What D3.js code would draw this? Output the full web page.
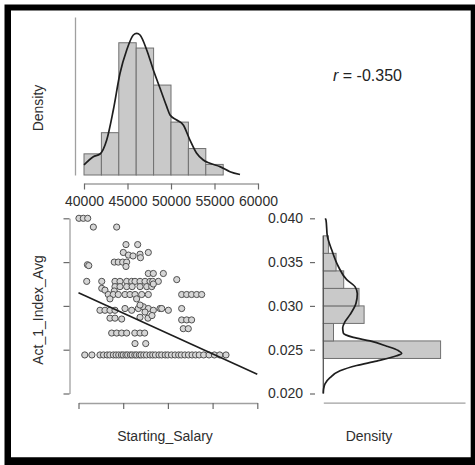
<!DOCTYPE html>
<html>
<head>
<meta charset="utf-8">
<script src="https://cdn.jsdelivr.net/npm/d3@7"></script>
<style>
  body { margin: 0; background: #fff; }
  svg { display: block; }
  text { font-family: "Liberation Sans", Arial, sans-serif; }
</style>
</head>
<body>
<svg id="chart" width="475" height="465"></svg>
<script>
// ---- Starting salary: histogram (bin edges + counts) and density curve ----
const salaryBinEdges = [40000, 42000, 44000, 46000, 48000, 50000, 52000, 54000, 56000];
const salaryCounts   = [4, 8, 25, 24, 17, 10, 5, 2];
const salaryCurveX = [40000, 41070, 41840, 42610, 43370, 44140, 44910, 45670, 46060, 46440, 47210, 47970,
                      48740, 49510, 49890, 50660, 51410, 52180, 52950, 53710, 54480, 55630, 56780, 57930];
const salaryCurveD = [1.00e-5, 1.82e-5, 2.09e-5, 3.48e-5, 6.47e-5, 10.12e-5, 12.44e-5, 13.93e-5, 14.10e-5, 13.93e-5, 12.44e-5, 10.45e-5,
                      8.63e-5, 6.80e-5, 5.97e-5, 5.47e-5, 4.97e-5, 3.48e-5, 2.16e-5, 1.49e-5, 1.16e-5, 0.83e-5, 0.33e-5, 0.05e-5];
const salaryTicks = [40000, 45000, 50000, 55000, 60000];

// ---- Act_1_Index_Avg: histogram and density curve ----
const indexBinEdges = [0.024, 0.026, 0.028, 0.030, 0.032, 0.034, 0.036, 0.038];
const indexCounts   = [46, 4, 16, 14, 8, 5, 2];
const indexCurveY = [0.0200, 0.0205, 0.0211, 0.0218, 0.0226, 0.0232, 0.0237, 0.0243, 0.0246, 0.0249, 0.0254, 0.0260, 0.0264,
                     0.0269, 0.0275, 0.0282, 0.0290, 0.0303, 0.0314, 0.0322, 0.0330, 0.0345, 0.0364, 0.0380, 0.0398, 0.0400];
const indexCurveD = [0, 0.6, 3.5, 13.8, 34.5, 68.9, 110.2, 151.5, 161.8, 154.8, 130.9, 96.4, 61.9,
                     41.3, 40.0, 44.8, 55.1, 67.5, 70.2, 65.4, 48.3, 31.0, 17.3, 8.3, 5.6, 4.1];
const indexTicks = [0.020, 0.025, 0.030, 0.035, 0.040];

// ---- Scatter: Starting_Salary vs Act_1_Index_Avg ----
const scatterSalary = [
  40050, 40540, 41030,
  41660, 44270,
  45310, 46620,
  45010, 45590, 46100, 46880, 46930, 47810,
  44000, 44450, 44940, 45390,
  45310, 41000, 41150,
  47810, 48370, 49490,
  50990,
  40920, 42600, 44080, 44640, 45390, 45950, 46320, 46880, 47440, 48000, 48300, 48930,
  42600, 44080, 44640, 45390, 46000, 46880, 47630, 48190, 48370,
  42960, 44000,
  43330, 43890, 44450, 45200, 45760, 46320, 47070, 47810, 51540, 52100, 52650, 53220, 53780,
  43520, 46500,
  42400, 42960, 43520, 44080, 45200, 45950, 46690, 47250, 47810, 48370, 49120, 49310, 50050, 51540,
  46880, 47440,
  43520, 44080, 44830,
  46880, 47770, 48220,
  51540, 52100, 52650,
  51720, 52280,
  43710, 44270, 44830, 45390, 46300, 46880, 47400,
  46320, 47520,
  40700, 41500, 42400, 42800, 43200, 43500, 43900, 44200, 44500, 44800, 45000, 45300, 45500, 45800,
  46000, 46300, 46500, 46800, 47000, 47300, 47600, 48000, 48300, 48600, 49000, 49300, 49700, 50000,
  50400, 50800, 51200, 51500, 51900, 52300, 52700, 53100, 53500, 54000, 54600, 55200, 55800, 56500
];
const scatterIndex = [
  0.0400, 0.0400, 0.0400,
  0.0390, 0.0390,
  0.0370, 0.0370,
  0.0361, 0.0358, 0.0357, 0.0359, 0.0355, 0.0361,
  0.0350, 0.0350, 0.0350, 0.0350,
  0.0345, 0.0347, 0.0346,
  0.0337, 0.0337, 0.0337,
  0.0330,
  0.0328, 0.0328, 0.0328, 0.0328, 0.0328, 0.0328, 0.0328, 0.0328, 0.0328, 0.0328, 0.0328, 0.0328,
  0.0320, 0.0322, 0.0322, 0.0322, 0.0322, 0.0322, 0.0322, 0.0322, 0.0325,
  0.0318, 0.0317,
  0.0313, 0.0313, 0.0313, 0.0313, 0.0313, 0.0313, 0.0313, 0.0313, 0.0313, 0.0313, 0.0313, 0.0313, 0.0313,
  0.0308, 0.0308,
  0.0295, 0.0295, 0.0295, 0.0295, 0.0297, 0.0295, 0.0297, 0.0299, 0.0297, 0.0295, 0.0297, 0.0297, 0.0295, 0.0297,
  0.0301, 0.0293,
  0.0286, 0.0286, 0.0285,
  0.0287, 0.0286, 0.0289,
  0.0284, 0.0284, 0.0284,
  0.0274, 0.0274,
  0.0269, 0.0269, 0.0269, 0.0269, 0.0269, 0.0269, 0.0269,
  0.0257, 0.0257,
  0.0244, 0.0244, 0.0244, 0.0244, 0.0244, 0.0244, 0.0244, 0.0244, 0.0244, 0.0244, 0.0244, 0.0244, 0.0244, 0.0244,
  0.0244, 0.0244, 0.0244, 0.0244, 0.0244, 0.0244, 0.0244, 0.0244, 0.0244, 0.0244, 0.0244, 0.0244, 0.0244, 0.0244,
  0.0244, 0.0244, 0.0244, 0.0244, 0.0244, 0.0244, 0.0244, 0.0244, 0.0244, 0.0244, 0.0244, 0.0244, 0.0244, 0.0244
];
// least-squares fit line, evaluated at the ends of the salary axis
const fitSalary = [40000, 60000];
const fitIndex  = [0.0315, 0.0222];
const rLabel = "-0.350";

// ---------------------------------------------------------------
const svg = d3.select("#chart");

const TXT = "#2e2e2e";
const AXIS = "#a0a0a0";
const TICK = "#6a6a6a";
const BAR_FILL = "#c9c9c9";
const BAR_STROKE = "#707070";
const CURVE = "#1e1e1e";

// scales
const xTop   = d3.scaleLinear([40000, 60000], [84, 258]);
const yTop   = d3.scaleLinear([0, 1.572e-4], [175, 17]);
const xScat  = d3.scaleLinear([40000, 60000], [78.5, 257.3]);
const yIndex = d3.scaleLinear([0.020, 0.040], [393.5, 218.3]);
const xRight = d3.scaleLinear([0, 292.5], [323.3, 465]);

function styleAxis(g, showLabels) {
  g.select(".domain").attr("stroke", AXIS).attr("stroke-width", 1.3);
  g.selectAll(".tick line").attr("stroke", TICK).attr("stroke-width", 1.2);
  g.selectAll(".tick text").attr("fill", TXT).style("font-size", "14px")
    .style("font-family", "'Liberation Sans', Arial, sans-serif");
  if (!showLabels) g.selectAll(".tick text").remove();
}

// ---------- top panel: salary histogram + density ----------
const N1 = d3.sum(salaryCounts);
const bw1 = salaryBinEdges[1] - salaryBinEdges[0];
const salaryBins = salaryCounts.map((c, i) => ({
  x0: salaryBinEdges[i], x1: salaryBinEdges[i + 1], d: c / (N1 * bw1)
}));

svg.append("g").selectAll("rect").data(salaryBins).join("rect")
  .attr("x", d => xTop(d.x0))
  .attr("width", d => xTop(d.x1) - xTop(d.x0))
  .attr("y", d => yTop(d.d))
  .attr("height", d => yTop(0) - yTop(d.d))
  .attr("fill", BAR_FILL).attr("stroke", BAR_STROKE).attr("stroke-width", 1);

svg.append("path")
  .datum(salaryCurveX.map((x, i) => [x, salaryCurveD[i]]))
  .attr("d", d3.line().x(d => xTop(d[0])).y(d => yTop(d[1])).curve(d3.curveMonotoneX))
  .attr("fill", "none").attr("stroke", CURVE).attr("stroke-width", 1.7);

svg.append("g").attr("transform", "translate(75,0)")
  .call(d3.axisLeft(yTop).tickValues([]).tickSizeOuter(0))
  .call(g => styleAxis(g, false));

svg.append("g").attr("transform", "translate(0,183.5)")
  .call(d3.axisBottom(xTop).tickValues(salaryTicks).tickSize(6).tickSizeOuter(0).tickPadding(7).tickFormat(d3.format("d")))
  .call(g => styleAxis(g, true));

svg.append("text")
  .attr("transform", "translate(43,108) rotate(-90)")
  .attr("text-anchor", "middle").attr("fill", TXT).style("font-size", "14px")
  .text("Density");

// correlation label
const rText = svg.append("text").attr("x", 333).attr("y", 81)
  .attr("fill", "#222").style("font-size", "16px");
rText.append("tspan").style("font-style", "italic").text("r");
rText.append("tspan").text(" = " + rLabel);

// ---------- scatter panel ----------
svg.append("g").attr("transform", "translate(69.5,0)")
  .call(d3.axisLeft(yIndex).tickValues(indexTicks).tickSize(6).tickSizeOuter(0))
  .call(g => styleAxis(g, false));

svg.append("g").attr("transform", "translate(0,403)")
  .call(d3.axisBottom(xScat).tickValues(salaryTicks).tickSize(6).tickSizeOuter(0))
  .call(g => styleAxis(g, false));

svg.append("g").selectAll("circle")
  .data(scatterSalary.map((s, i) => [s, scatterIndex[i]]))
  .join("circle")
  .attr("cx", d => xScat(d[0]))
  .attr("cy", d => yIndex(d[1]))
  .attr("r", 3.1)
  .attr("fill", "#d6d6d6")
  .attr("stroke", "#505050")
  .attr("stroke-width", 1);

svg.append("line")
  .attr("x1", xScat(fitSalary[0])).attr("y1", yIndex(fitIndex[0]))
  .attr("x2", xScat(fitSalary[1])).attr("y2", yIndex(fitIndex[1]))
  .attr("stroke", CURVE).attr("stroke-width", 1.6);

svg.append("text")
  .attr("transform", "translate(43,310) rotate(-90)")
  .attr("text-anchor", "middle").attr("fill", TXT).style("font-size", "14px")
  .text("Act_1_Index_Avg");

svg.append("text").attr("x", 165).attr("y", 440.5)
  .attr("text-anchor", "middle").attr("fill", TXT).style("font-size", "14px")
  .text("Starting_Salary");

// ---------- right panel: index histogram + density (horizontal) ----------
const N2 = d3.sum(indexCounts);
const bw2 = indexBinEdges[1] - indexBinEdges[0];
const indexBins = indexCounts.map((c, i) => ({
  y0: indexBinEdges[i], y1: indexBinEdges[i + 1], d: c / (N2 * bw2)
}));

svg.append("g").selectAll("rect").data(indexBins).join("rect")
  .attr("x", xRight(0))
  .attr("width", d => xRight(d.d) - xRight(0))
  .attr("y", d => yIndex(d.y1))
  .attr("height", d => yIndex(d.y0) - yIndex(d.y1))
  .attr("fill", BAR_FILL).attr("stroke", BAR_STROKE).attr("stroke-width", 1);

// zero-density baseline
svg.append("line")
  .attr("x1", xRight(0)).attr("x2", xRight(0))
  .attr("y1", yIndex(indexBinEdges[indexBinEdges.length - 1]))
  .attr("y2", yIndex(indexCurveY[0]))
  .attr("stroke", "#555").attr("stroke-width", 1.3);

svg.append("path")
  .datum(indexCurveY.map((y, i) => [indexCurveD[i], y]))
  .attr("d", d3.line().x(d => xRight(d[0])).y(d => yIndex(d[1])).curve(d3.curveMonotoneY))
  .attr("fill", "none").attr("stroke", CURVE).attr("stroke-width", 1.7);

svg.append("g").attr("transform", "translate(315,0)")
  .call(d3.axisLeft(yIndex).tickValues(indexTicks).tickSize(5).tickPadding(7).tickFormat(d3.format(".3f")))
  .call(g => { styleAxis(g, true); g.select(".domain").remove(); });

svg.append("g").attr("transform", "translate(0,402.7)")
  .call(d3.axisBottom(xRight).tickValues([]).tickSizeOuter(0))
  .call(g => styleAxis(g, false));

svg.append("text").attr("x", 369).attr("y", 440.5)
  .attr("text-anchor", "middle").attr("fill", TXT).style("font-size", "14px")
  .text("Density");

// ---------- outer frame ----------
svg.append("path")
  .attr("d", "M4.5,4.5H475V465H4.5Z M11,10.5V457.3H470.7V10.5Z")
  .attr("fill", "#000").attr("fill-rule", "evenodd");
</script>
</body>
</html>
